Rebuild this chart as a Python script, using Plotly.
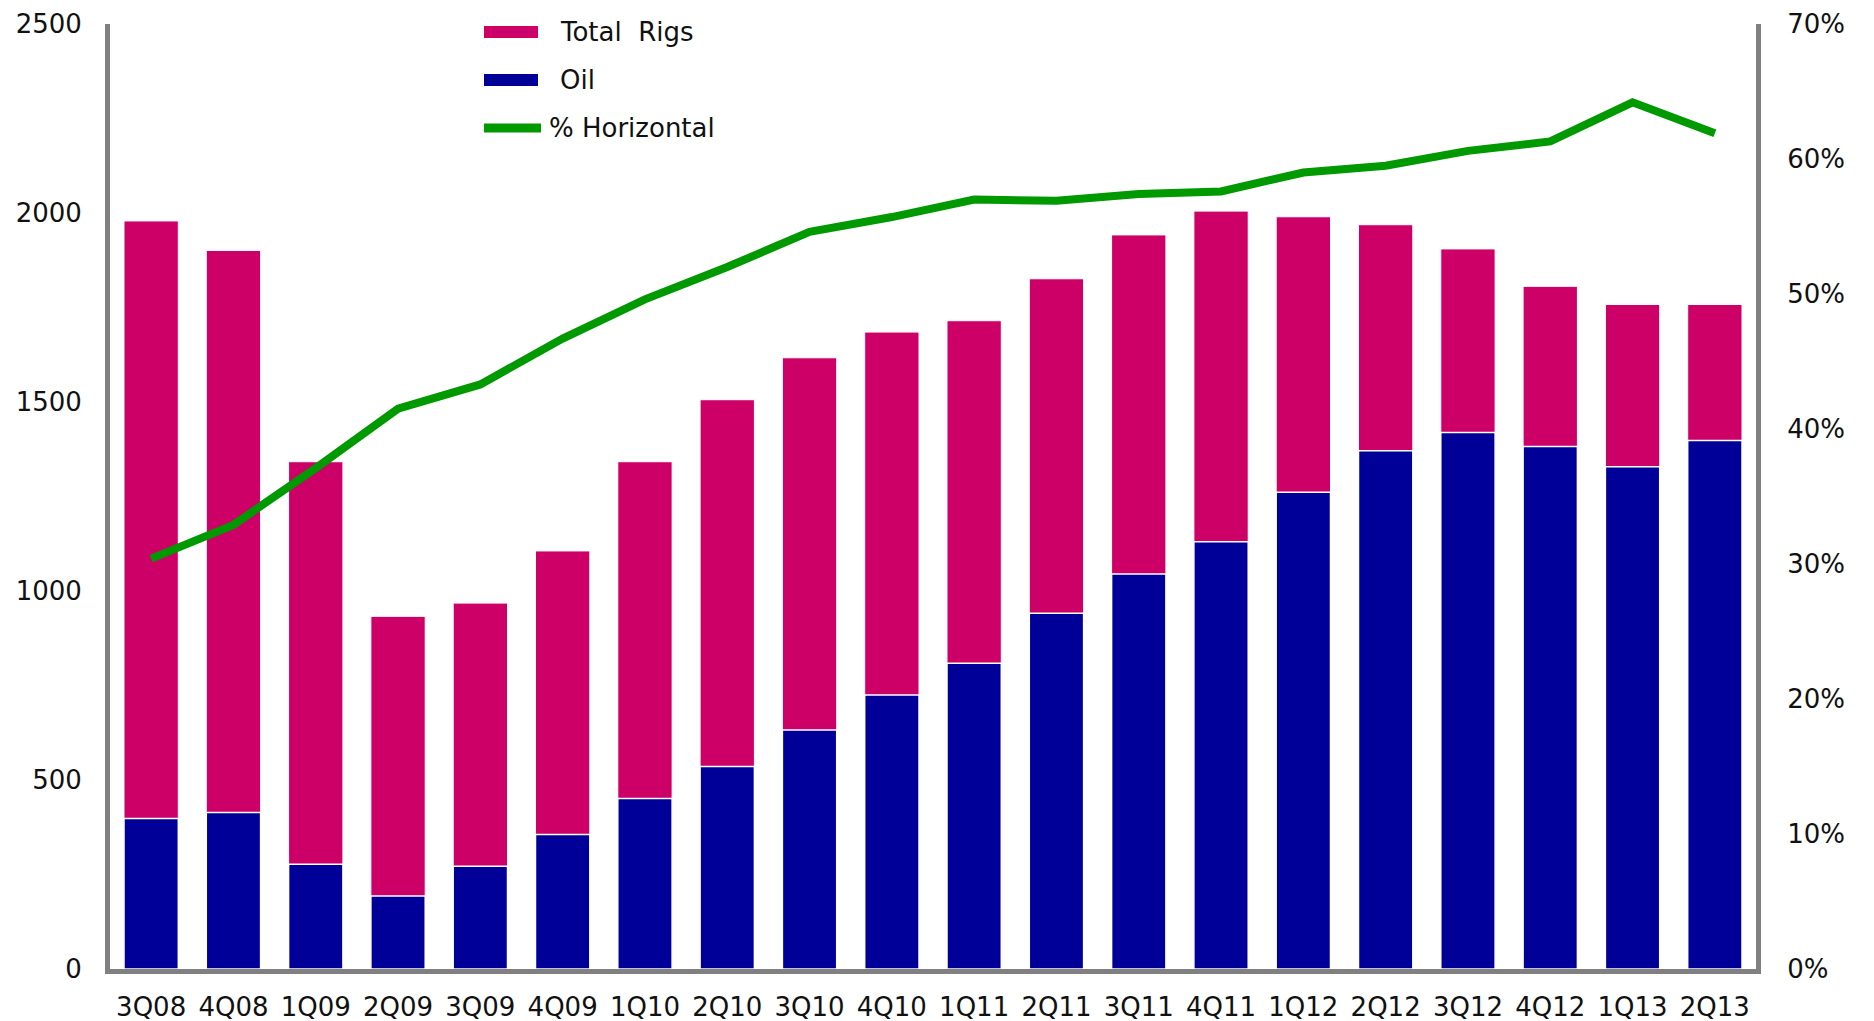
import plotly.graph_objects as go

quarters = ["3Q08", "4Q08", "1Q09", "2Q09", "3Q09", "4Q09", "1Q10", "2Q10", "3Q10", "4Q10",
            "1Q11", "2Q11", "3Q11", "4Q11", "1Q12", "2Q12", "3Q12", "4Q12", "1Q13", "2Q13"]
total_rigs = [1979, 1901, 1342, 933, 968, 1106, 1342, 1506, 1617, 1685,
              1715, 1826, 1942, 2005, 1990, 1969, 1905, 1806, 1758, 1758]
oil_rigs = [398, 414, 277, 193, 272, 356, 451, 536, 632, 725,
            809, 941, 1045, 1130, 1261, 1371, 1419, 1382, 1329, 1398]
pct_horizontal = [30.4, 32.9, 37.1, 41.5, 43.3, 46.7, 49.6, 52.0, 54.6, 55.7,
                  57.0, 56.9, 57.4, 57.6, 59.0, 59.5, 60.6, 61.3, 64.2, 61.9]

FONT = "DejaVu Sans"
GRAY = "#808080"
PINK = "#CC0066"
NAVY = "#000099"
GREEN = "#009900"
TXT = "#111111"
FS = 26

# page has an 8px body margin, so the figure is sized to fit the window
W, H = 1866, 1013
L, R, T, B = 102, 118, 16, 52
PW, PH = W - L - R, H - T - B


def px(x):
    return (x - L) / PW


def py(y):
    return (H - B - y) / PH


fig = go.Figure()
fig.add_trace(go.Bar(
    x=quarters, y=total_rigs, name="Total  Rigs",
    marker=dict(color=PINK, line=dict(color="white", width=1)),
))
fig.add_trace(go.Bar(
    x=quarters, y=oil_rigs, name="Oil",
    marker=dict(color=NAVY, line=dict(color="white", width=1.5)),
))
fig.add_trace(go.Scatter(
    x=quarters, y=pct_horizontal, name="% Horizontal", yaxis="y2",
    mode="lines", line=dict(color=GREEN, width=8),
))

# custom legend (wide swatches as in the reference)
shapes = [
    dict(type="rect", xref="paper", yref="paper", x0=px(476), x1=px(530), y0=py(30), y1=py(18),
         fillcolor=PINK, line=dict(width=0)),
    dict(type="rect", xref="paper", yref="paper", x0=px(476), x1=px(530), y0=py(78), y1=py(66),
         fillcolor=NAVY, line=dict(width=0)),
    dict(type="line", xref="paper", yref="paper", x0=px(476), x1=px(533), y0=py(120), y1=py(120),
         line=dict(color=GREEN, width=9)),
]
annotations = [
    dict(text="Total  Rigs", x=px(550), y=py(24), xref="paper", yref="paper",
         xanchor="left", yanchor="middle", showarrow=False, font=dict(family=FONT, size=FS, color=TXT)),
    dict(text="Oil", x=px(550), y=py(72), xref="paper", yref="paper",
         xanchor="left", yanchor="middle", showarrow=False, font=dict(family=FONT, size=FS, color=TXT)),
    dict(text="% Horizontal", x=px(539), y=py(120), xref="paper", yref="paper",
         xanchor="left", yanchor="middle", showarrow=False, font=dict(family=FONT, size=FS, color=TXT)),
]

fig.update_layout(
    width=W, height=H,
    margin=dict(l=L, r=R, t=T, b=B, autoexpand=False),
    paper_bgcolor="white", plot_bgcolor="white",
    barmode="overlay", bargap=0.34,
    font=dict(family=FONT, size=FS, color=TXT),
    showlegend=False,
    shapes=shapes, annotations=annotations,
    xaxis=dict(
        type="category", range=[-0.5, 19.5], automargin=False,
        showline=True, linecolor=GRAY, linewidth=5,
        showgrid=False, zeroline=False, ticks="",
        tickfont=dict(family=FONT, size=FS, color=TXT),
        ticklabelstandoff=11, ticklabeloverflow="allow",
    ),
    yaxis=dict(
        range=[0, 2500], dtick=500, automargin=False,
        showline=True, linecolor=GRAY, linewidth=5,
        showgrid=False, zeroline=False, ticks="",
        tickfont=dict(family=FONT, size=FS, color=TXT),
        ticklabelstandoff=18, ticklabeloverflow="allow",
    ),
    yaxis2=dict(
        range=[0, 70], dtick=10, ticksuffix="%", automargin=False,
        overlaying="y", side="right",
        showline=True, linecolor=GRAY, linewidth=5,
        showgrid=False, zeroline=False, ticks="",
        tickfont=dict(family=FONT, size=FS, color=TXT),
        ticklabelstandoff=21, ticklabeloverflow="allow",
    ),
)

fig.write_html("out.html")
